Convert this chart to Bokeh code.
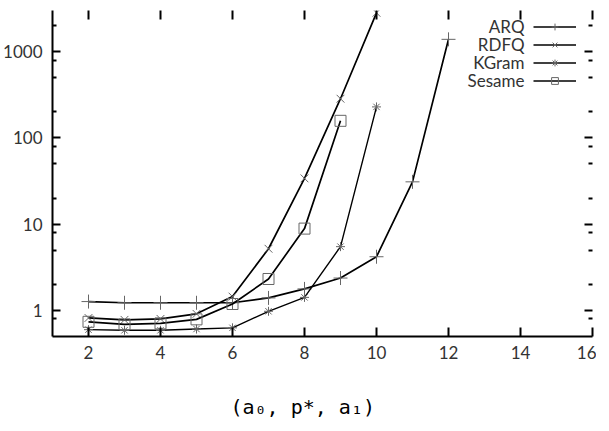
from bokeh.plotting import figure
from bokeh.models import (FixedTicker, LinearAxis, LogAxis, Legend, LegendItem,
                          Label, Title, PrintfTickFormatter, CustomJSTickFormatter)
from bokeh.embed import file_html
from bokeh.resources import INLINE
from bokeh.core.properties import value

# ---- data ----
arq_x = [2, 3, 4, 5, 6, 7, 8, 9, 10, 11, 12]
arq_y = [1.27, 1.23, 1.23, 1.23, 1.23, 1.40, 1.78, 2.38, 4.2, 31, 1390]

rdfq_x = [2, 3, 4, 5, 6, 7, 8, 9, 10]
rdfq_y = [0.82, 0.78, 0.80, 0.915, 1.45, 5.2, 34, 285, 2820]

kgram_x = [2, 3, 4, 5, 6, 7, 8, 9, 10]
kgram_y = [0.60, 0.59, 0.59, 0.61, 0.63, 0.98, 1.42, 5.5, 229]

sesame_x = [2, 3, 4, 5, 6, 7, 8, 9]
sesame_y = [0.74, 0.69, 0.71, 0.79, 1.19, 2.32, 8.9, 158]

series_names = ["ARQ", "RDFQ", "KGram", "Sesame"]
x_ticks = [2, 4, 6, 8, 10, 12, 14, 16]
y_ticks = [1, 10, 100, 1000]
y_minor_ticks = [0.8, 2, 5, 8, 20, 50, 80, 200, 500, 800, 2000]
x_title = "(a\u2080, p*, a\u2081)"

FONT = "Lato"
LABEL_COLOR = "#333333"
MARK_COLOR = "#666666"

p = figure(frame_width=540, frame_height=326,
           x_range=(1, 16), y_range=(0.5, 3000), y_axis_type="log",
           output_backend="svg", toolbar_location=None,
           min_border_left=51, min_border_right=4, min_border_top=10,
           min_border_bottom=86)
p.outline_line_color = None
p.xgrid.grid_line_color = None
p.ygrid.grid_line_color = None
p.background_fill_color = "white"
p.border_fill_color = "white"

blank = CustomJSTickFormatter(code="return ''")

# bottom axis
xa = p.xaxis[0]
xa.ticker = FixedTicker(ticks=x_ticks)
xa.major_tick_in = 9
xa.major_tick_out = 0
xa.minor_tick_line_color = None
xa.axis_line_width = 2
xa.major_tick_line_width = 2
xa.major_label_standoff = 9
xa.major_label_text_font = FONT
xa.major_label_text_font_size = "17px"
xa.major_label_text_color = LABEL_COLOR

# left axis
ya = p.yaxis[0]
ya.ticker = FixedTicker(ticks=y_ticks, minor_ticks=y_minor_ticks)
ya.formatter = PrintfTickFormatter(format="%d")
ya.major_tick_in = 8
ya.major_tick_out = 0
ya.minor_tick_in = 4
ya.minor_tick_out = 0
ya.axis_line_width = 2
ya.major_tick_line_width = 2
ya.minor_tick_line_width = 2
ya.major_label_standoff = 10
ya.major_label_text_font = FONT
ya.major_label_text_font_size = "17px"
ya.major_label_text_color = LABEL_COLOR

# top axis: ticks only
top = LinearAxis(ticker=FixedTicker(ticks=x_ticks), formatter=blank,
                 major_tick_in=9, major_tick_out=0,
                 axis_line_color=None, minor_tick_line_color=None,
                 major_tick_line_width=2, major_label_standoff=0)
p.add_layout(top, "above")

# right axis: ticks only
right = LogAxis(ticker=FixedTicker(ticks=y_ticks, minor_ticks=y_minor_ticks),
                formatter=blank,
                major_tick_in=8, major_tick_out=0, minor_tick_in=4, minor_tick_out=0,
                axis_line_color=None, major_tick_line_width=2, minor_tick_line_width=2,
                major_label_standoff=0)
p.add_layout(right, "right")

# series
specs = [
    (arq_x, arq_y, "cross", 14, 1.7),
    (rdfq_x, rdfq_y, "x", 11, 1.7),
    (kgram_x, kgram_y, "asterisk", 9, 1.4),
    (sesame_x, sesame_y, "square", 11, 1.7),
]
items = []
for (xs, ys, mk, sz, lw) in specs:
    lr = p.line(xs, ys, line_color="black", line_width=lw)
    sr = p.scatter(xs, ys, marker=mk, size=sz, line_color=MARK_COLOR,
                   fill_color=None, line_width=1)
    items.append(LegendItem(label=value(""), renderers=[lr, sr]))

legend = Legend(items=items, location=(481, 247), glyph_width=43, glyph_height=17,
                label_height=17, label_width=0, label_standoff=0, spacing=1,
                padding=0, margin=0, border_line_color=None,
                background_fill_alpha=0, label_text_font_size="12px")
p.add_layout(legend, "center")

row_y = [310, 292, 274, 256]
for name, yy in zip(series_names, row_y):
    p.add_layout(Label(x=472, y=yy, x_units="screen", y_units="screen", text=name,
                       text_align="right", text_baseline="middle",
                       text_font=FONT, text_font_size="17px", text_color=LABEL_COLOR))

title = Title(text=x_title, align="left", offset=178, standoff=63,
              text_font="DejaVu Sans Mono", text_font_size="20px",
              text_font_style="normal", text_color="black")
p.add_layout(title, "below")

open("out.html", "w").write(file_html(p, INLINE))
